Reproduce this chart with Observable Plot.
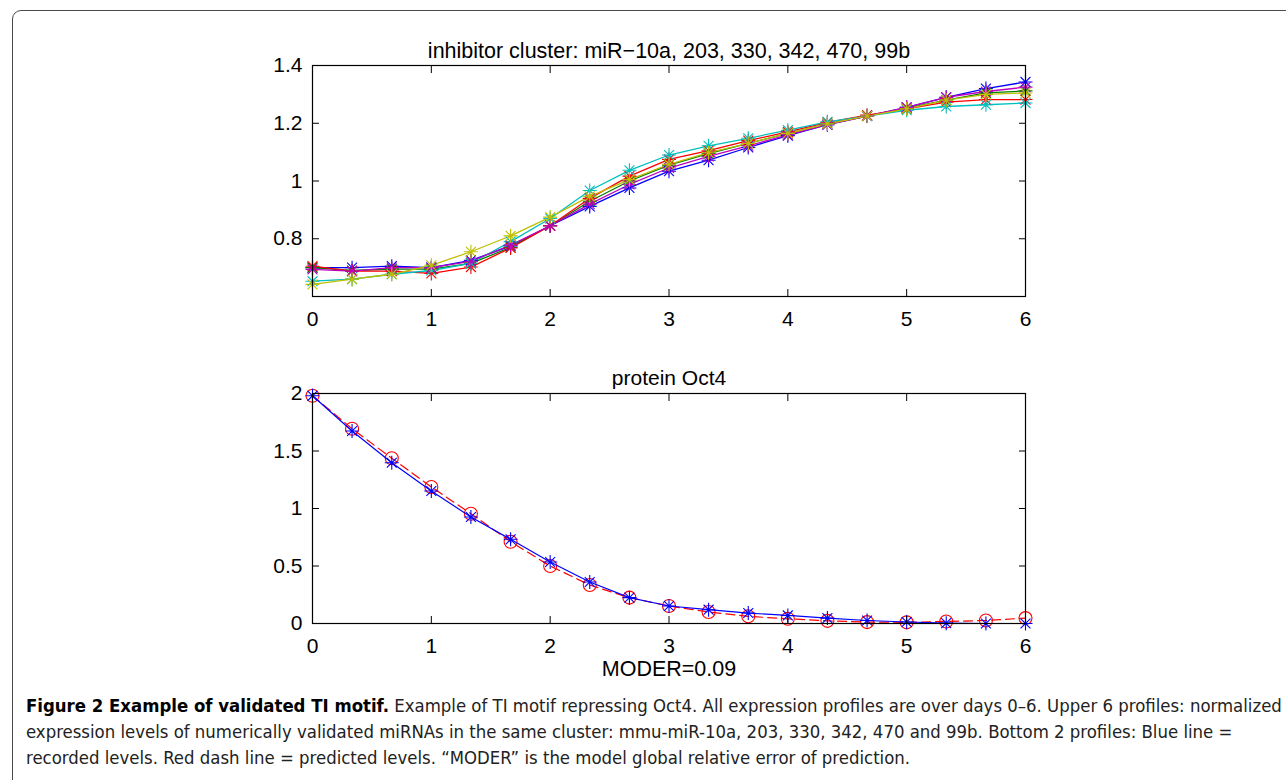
<!DOCTYPE html>
<html>
<head>
<meta charset="utf-8">
<script src="https://cdn.jsdelivr.net/npm/d3@7"></script>
<script src="https://cdn.jsdelivr.net/npm/@observablehq/plot@0.6"></script>
<style>
  html, body { margin: 0; padding: 0; background: #fff; }
  #page { position: relative; width: 1286px; height: 780px; overflow: hidden; }
  #box { position: absolute; left: 12px; top: 10px; width: 1400px; height: 900px;
         border: 1.5px solid #4a4a4a; border-radius: 9px; box-sizing: border-box; }
  #top, #bottom { position: absolute; left: 0; }
  #top { top: 0; }
  #bottom { top: 340px; }
  #caption { position: absolute; left: 26px; top: 693px; width: 1262px; white-space: nowrap;
             font-family: "DejaVu Sans Condensed", "Liberation Sans", sans-serif;
             font-size: 18.4px; line-height: 26px; color: #222; }
  #caption b { color: #000; }
</style>
</head>
<body>
<div id="page">
  <div id="box"></div>
  <div id="top"></div>
  <div id="bottom"></div>
  <div id="caption"><b>Figure 2 Example of validated TI motif.</b> Example of TI motif repressing Oct4. All expression profiles are over days 0–6. Upper 6 profiles: normalized<br>expression levels of numerically validated miRNAs in the same cluster: mmu-miR-10a, 203, 330, 342, 470 and 99b. Bottom 2 profiles: Blue line =<br>recorded levels. Red dash line = predicted levels. “MODER” is the model global relative error of prediction.</div>
</div>
<script>
// ---- data ----
const days = [0, 0.333, 0.667, 1, 1.333, 1.667, 2, 2.333, 2.667, 3, 3.333, 3.667, 4, 4.333, 4.667, 5, 5.333, 5.667, 6];

const mirNames = ["miR-10a", "miR-203", "miR-330", "miR-342", "miR-470", "miR-99b"];
const mirColors = ["#0000ff", "#008000", "#ff0000", "#00bfbf", "#bf00bf", "#bfbf00"];
const mir10a = [0.700, 0.700, 0.705, 0.700, 0.725, 0.775, 0.845, 0.912, 0.976, 1.034, 1.072, 1.116, 1.157, 1.195, 1.225, 1.255, 1.290, 1.320, 1.343];
const mir203 = [0.700, 0.690, 0.695, 0.695, 0.715, 0.770, 0.845, 0.930, 1.000, 1.055, 1.095, 1.130, 1.165, 1.198, 1.225, 1.252, 1.280, 1.305, 1.312];
const mir330 = [0.705, 0.688, 0.688, 0.680, 0.702, 0.768, 0.845, 0.940, 1.017, 1.075, 1.105, 1.140, 1.170, 1.203, 1.228, 1.250, 1.273, 1.282, 1.282];
const mir342 = [0.653, 0.660, 0.677, 0.690, 0.715, 0.790, 0.870, 0.967, 1.037, 1.090, 1.122, 1.148, 1.176, 1.205, 1.225, 1.245, 1.258, 1.264, 1.270];
const mir470 = [0.694, 0.688, 0.700, 0.700, 0.722, 0.778, 0.845, 0.920, 0.988, 1.045, 1.085, 1.122, 1.160, 1.195, 1.225, 1.255, 1.290, 1.310, 1.325];
const mir99b = [0.642, 0.660, 0.677, 0.708, 0.755, 0.810, 0.875, 0.947, 1.005, 1.058, 1.098, 1.130, 1.165, 1.198, 1.225, 1.250, 1.280, 1.300, 1.305];

const oct4Recorded  = [1.980, 1.674, 1.398, 1.152, 0.926, 0.732, 0.535, 0.361, 0.225, 0.152, 0.120, 0.091, 0.070, 0.047, 0.026, 0.013, 0.003, 0.000, 0.000];
const oct4Predicted = [1.980, 1.694, 1.437, 1.187, 0.955, 0.711, 0.500, 0.335, 0.225, 0.152, 0.100, 0.062, 0.041, 0.023, 0.012, 0.010, 0.018, 0.026, 0.047];

const xTicks = [0, 1, 2, 3, 4, 5, 6];
const yTicksTop = [0.8, 1, 1.2, 1.4];
const yTicksBottom = [0, 0.5, 1, 1.5, 2];

const topTitle = "inhibitor cluster: miR\u221210a, 203, 330, 342, 470, 99b";
const bottomTitle = "protein Oct4";
const bottomXLabel = "MODER=0.09";

// ---- build tables ----
const mirSeries = [mir10a, mir203, mir330, mir342, mir470, mir99b];
const mirRows = [];
mirSeries.forEach((vals, s) => vals.forEach((v, i) => mirRows.push({day: days[i], value: v, mir: mirNames[s]})));
const recRows = days.map((d, i) => ({day: d, value: oct4Recorded[i]}));
const predRows = days.map((d, i) => ({day: d, value: oct4Predicted[i]}));

// MATLAB-like 8-armed asterisk
const star8 = {
  draw(context, size) {
    const r = Math.sqrt(size / Math.PI);
    const d = r * Math.SQRT1_2;
    context.moveTo(-r, 0); context.lineTo(r, 0);
    context.moveTo(0, -r); context.lineTo(0, r);
    context.moveTo(-d, -d); context.lineTo(d, d);
    context.moveTo(-d, d); context.lineTo(d, -d);
  }
};

const FONT = "'Liberation Sans', Arial, Helvetica, sans-serif";
const FS = 21;
const fmt = d => String(d);

function frameAxes(yTicks) {
  return [
    Plot.frame({stroke: "black", strokeWidth: 1.2}),
    // inward ticks on all four sides
    Plot.axisX({anchor: "bottom", ticks: xTicks, tickSize: 7, dy: -7, tickFormat: () => "", label: null, stroke: "black"}),
    Plot.axisX({anchor: "top", ticks: xTicks, tickSize: 7, dy: 7, tickFormat: () => "", label: null, stroke: "black"}),
    Plot.axisY({anchor: "left", ticks: yTicks, tickSize: 7, dx: 7, tickFormat: () => "", label: null, stroke: "black"}),
    Plot.axisY({anchor: "right", ticks: yTicks, tickSize: 7, dx: -7, tickFormat: () => "", label: null, stroke: "black"}),
    // tick labels
    Plot.axisX({anchor: "bottom", ticks: xTicks, tickSize: 0, tickPadding: 15, tickFormat: fmt, label: null, fontSize: FS, fill: "black"}),
    Plot.axisY({anchor: "left", ticks: yTicks, tickSize: 0, tickPadding: 10, tickFormat: fmt, label: null, fontSize: FS, fill: "black"})
  ];
}

const topPlot = Plot.plot({
  width: 1286, height: 340,
  marginLeft: 312, marginRight: 261, marginTop: 65, marginBottom: 44,
  style: {fontFamily: FONT, background: "transparent", overflow: "visible"},
  x: {domain: [0, 6], axis: null},
  y: {domain: [0.6, 1.4], axis: null},
  color: {domain: mirNames, range: mirColors},
  marks: [
    Plot.line(mirRows, {x: "day", y: "value", z: "mir", stroke: "mir", strokeWidth: 1.3}),
    Plot.dot(mirRows, {x: "day", y: "value", z: "mir", stroke: "mir", symbol: star8, r: 7, strokeWidth: 1.1}),
    ...frameAxes(yTicksTop),
    Plot.text([topTitle], {text: d => d, frameAnchor: "top", dy: -23, fontSize: 21.5, fill: "black"})
  ]
});
document.getElementById("top").appendChild(topPlot);

const bottomPlot = Plot.plot({
  width: 1286, height: 340,
  marginLeft: 312, marginRight: 261, marginTop: 53, marginBottom: 57,
  style: {fontFamily: FONT, background: "transparent", overflow: "visible"},
  x: {domain: [0, 6], axis: null},
  y: {domain: [0, 2], axis: null},
  marks: [
    Plot.line(predRows, {x: "day", y: "value", stroke: "#ff0000", strokeWidth: 1.2, strokeDasharray: "9,5"}),
    Plot.dot(predRows, {x: "day", y: "value", stroke: "#ff0000", symbol: "circle", r: 6.5, strokeWidth: 1.1}),
    Plot.line(recRows, {x: "day", y: "value", stroke: "#0000ff", strokeWidth: 1.2}),
    Plot.dot(recRows, {x: "day", y: "value", stroke: "#0000ff", symbol: star8, r: 7, strokeWidth: 1.1}),
    ...frameAxes(yTicksBottom),
    Plot.text([bottomTitle], {text: d => d, frameAnchor: "top", dy: -23, fontSize: FS, fill: "black"}),
    Plot.text([bottomXLabel], {text: d => d, frameAnchor: "bottom", dy: 52, fontSize: 21.5, fill: "black"})
  ]
});
document.getElementById("bottom").appendChild(bottomPlot);
</script>
</body>
</html>
